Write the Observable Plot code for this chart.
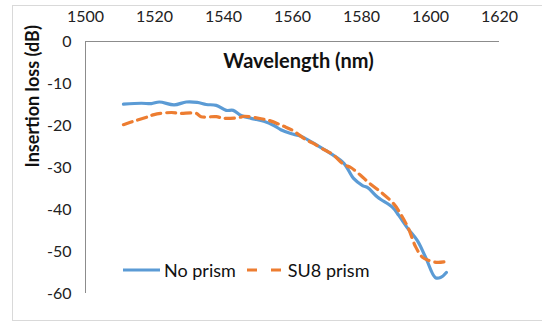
<!DOCTYPE html>
<html>
<head>
<meta charset="utf-8">
<script src="https://cdn.jsdelivr.net/npm/d3@7"></script>
<script src="https://cdn.jsdelivr.net/npm/@observablehq/plot@0.6"></script>
<style>
  html, body { margin: 0; padding: 0; background: #fff; }
  #wrap { position: relative; width: 542px; height: 324px; font-family: Lato, "Open Sans", sans-serif; }
  #border { position: absolute; left: 12px; top: 5px; width: 532px; height: 316px; border: 1px solid #d9d9d9; box-sizing: border-box; }
  #legend { position: absolute; left: 123px; top: 259px; display: flex; align-items: center; font-size: 18px; color: #111; }
  #legend .item { display: flex; align-items: center; margin-right: 11px; }
  #legend svg { margin-right: 4px; }
</style>
</head>
<body>
<div id="wrap">
  <div id="border"></div>
  <div id="chart"></div>
  <div id="legend"></div>
</div>
<script>
const seriesNames = ["No prism", "SU8 prism"];
const seriesColors = ["#5B9BD5", "#ED7D31"];
const xTicks = [1500, 1520, 1540, 1560, 1580, 1600, 1620];
const yTicks = [0, -10, -20, -30, -40, -50, -60];
const titleText = "Wavelength (nm)";
const yLabelText = "Insertion loss (dB)";

const noPrismWl = [1511.0, 1516.2, 1519.1, 1521.4, 1525.7, 1529.2, 1532.4, 1535.0, 1537.9, 1540.8, 1542.8, 1545.1, 1548.0, 1551.7, 1554.6, 1556.6, 1559.5, 1561.8, 1563.3, 1567.3, 1571.1, 1574.9, 1577.7, 1580.3, 1581.8, 1584.7, 1589.0, 1590.8, 1593.4, 1596.2, 1598.6, 1601.4, 1602.9, 1604.6];
const noPrismDb = [-14.9, -14.7, -14.8, -14.4, -15.1, -14.4, -14.5, -15.0, -15.2, -16.4, -16.4, -17.6, -18.3, -19.0, -20.0, -21.0, -21.9, -22.4, -22.9, -24.8, -26.7, -29.0, -32.6, -34.3, -34.8, -37.1, -39.5, -41.4, -44.5, -47.4, -51.4, -56.2, -56.2, -55.0];

const su8Wl = [1511.0, 1513.9, 1518.2, 1519.9, 1524.9, 1527.2, 1532.1, 1533.5, 1537.9, 1540.2, 1544.5, 1546.0, 1550.9, 1553.2, 1557.5, 1560.1, 1563.9, 1565.9, 1569.7, 1571.7, 1574.9, 1576.9, 1579.8, 1582.1, 1586.1, 1589.3, 1591.3, 1593.6, 1595.7, 1597.7, 1599.4, 1602.0, 1604.6];
const su8Db = [-19.8, -19.0, -17.9, -17.4, -16.9, -17.1, -17.1, -17.9, -17.9, -18.3, -18.1, -17.8, -18.4, -18.8, -20.2, -21.2, -23.4, -24.2, -26.0, -26.9, -29.3, -30.0, -31.9, -33.6, -36.2, -38.6, -41.0, -44.5, -48.9, -51.4, -52.1, -52.6, -52.4];

const noPrism = noPrismWl.map((w, i) => ({wl: w, db: noPrismDb[i]}));
const su8 = su8Wl.map((w, i) => ({wl: w, db: su8Db[i]}));

const chart = Plot.plot({
  width: 542,
  height: 324,
  marginLeft: 85,
  marginRight: 43,
  marginTop: 41,
  marginBottom: 31,
  style: { fontFamily: "Lato, 'Open Sans', sans-serif", fontSize: "16px", color: "#222", background: "transparent" },
  x: { domain: [1500, 1620], ticks: xTicks, axis: null },
  y: { domain: [-60, 0], ticks: yTicks, axis: null },
  marks: [
    Plot.axisX({ anchor: "top", ticks: xTicks, tickSize: 0, tickPadding: 20, label: null, tickFormat: d => String(d), fontSize: 16 }),
    Plot.axisY({ anchor: "left", ticks: yTicks, tickSize: 0, tickPadding: 14, label: null, tickFormat: d => String(d), fontSize: 16 }),
    Plot.ruleY([0], { stroke: "#8c8c8c", strokeWidth: 1 }),
    Plot.ruleX([1500], { stroke: "#8c8c8c", strokeWidth: 1 }),
    Plot.line(noPrism, { x: "wl", y: "db", stroke: seriesColors[0], strokeWidth: 3.2, curve: "catmull-rom" }),
    Plot.line(su8, { x: "wl", y: "db", stroke: seriesColors[1], strokeWidth: 3.2, strokeDasharray: "9,6", curve: "catmull-rom" }),
    Plot.text([titleText], { frameAnchor: "top", dy: 12, dx: 6, fontSize: 20, fontWeight: "bold", fill: "#111" }),
    Plot.text([yLabelText], { frameAnchor: "left", rotate: -90, dx: -52, fontSize: 18, fontWeight: "bold", fill: "#111" })
  ]
});
document.getElementById("chart").appendChild(chart);

const legend = document.getElementById("legend");
seriesNames.forEach((name, i) => {
  const item = document.createElement("div");
  item.className = "item";
  const dash = i === 1 ? 'stroke-dasharray="10,14"' : "";
  item.innerHTML = `<svg width="37" height="10"><line x1="0" y1="5" x2="37" y2="5" stroke="${seriesColors[i]}" stroke-width="3.2" ${dash}/></svg><span>${name}</span>`;
  legend.appendChild(item);
});
</script>
</body>
</html>
